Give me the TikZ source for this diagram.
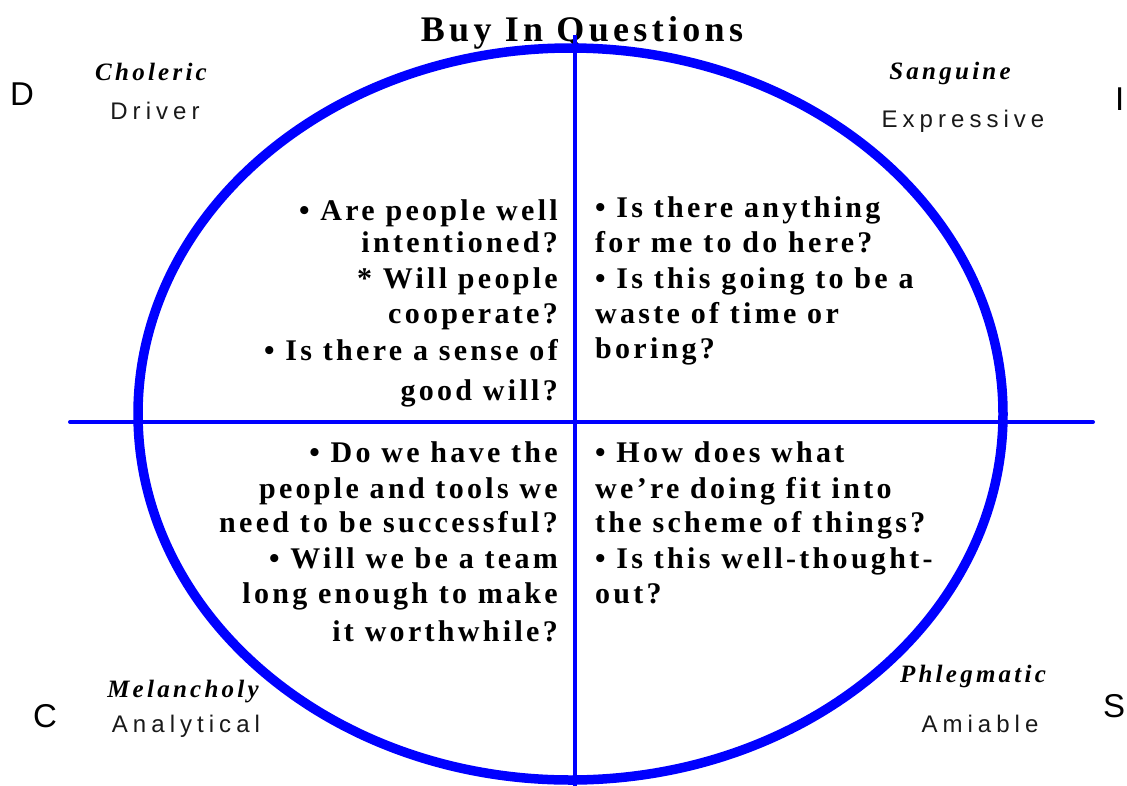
\documentclass[tikz,border=0pt]{standalone}
\usepackage{fontspec}
\setmainfont{Liberation Serif}
\newfontfamily\qfont[LetterSpace=11]{Liberation Serif}
\newfontfamily\tfont[LetterSpace=12]{Liberation Serif}
\newfontfamily\ifont[LetterSpace=13]{Liberation Serif}
\newfontfamily\lsfont[LetterSpace=21]{Liberation Sans}
\newfontfamily\bigfont{Liberation Sans}
\definecolor{pureblue}{RGB}{0,0,255}
\tikzset{
  qtext/.style={inner sep=0pt, font={\qfont\bfseries\fontsize{30}{34}\selectfont}},
  qleft/.style={qtext, anchor=base east},
  qright/.style={qtext, anchor=base west},
  temper/.style={inner sep=0pt, anchor=base, font={\ifont\bfseries\itshape\fontsize{25}{29}\selectfont}},
  role/.style={inner sep=0pt, anchor=base, text=black!90, font={\lsfont\fontsize{24}{28}\selectfont}},
  letter/.style={inner sep=0pt, anchor=base west, font={\bigfont\fontsize{33}{37}\selectfont}},
  ring/.style={draw=pureblue, line width=9.5pt},
  axis/.style={draw=pureblue, line width=4pt, line cap=round}
}
\begin{document}
\begin{tikzpicture}[x=1pt,y=-1pt]
\useasboundingbox (0,0) rectangle (1127,785);
\fill[white] (0,0) rectangle (1127,785);
% title
\node[inner sep=0pt, anchor=base, font={\tfont\bfseries\fontsize{36}{40}\selectfont}] (title) at (582,41) {Buy In Questions};
% ellipse and axes
\draw[ring] (570.5,414) ellipse [x radius=432.5, y radius=366];
\coordinate (vtop) at (575,35);
\coordinate (vbot) at (575,790);
\coordinate (hl) at (70,422);
\coordinate (hr) at (1093,422);
\draw[axis, line cap=butt] (vtop) -- (vbot);
\draw[axis] (hl) -- (hr);
% corner letters
\node[letter] (D) at (10,105) {D};
\node[letter] (I) at (1115,110) {I};
\node[letter] (C) at (33,727) {C};
\node[letter] (S) at (1103,717) {S};
% temperaments
\node[temper] (chol) at (151,80) {Choleric};
\node[role] (driv) at (155,119) {Driver};
\node[temper] (sang) at (950,79) {Sanguine};
\node[role] (expr) at (963,127) {Expressive};
\node[temper] (mel) at (183,697) {Melancholy};
\node[role] (anal) at (186,732) {Analytical};
\node[temper] (phl) at (973,682) {Phlegmatic};
\node[role] (ami) at (980,732) {Amiable};
% upper left
\foreach \yy/\tt [count=\i] in {220/{• Are people well},252/{intentioned?},288/{* Will people},323/{cooperate?},360/{• Is there a sense of},400/{good will?}}
  \node[qleft] (ul\i) at (558,\yy) {\tt};
% upper right
\foreach \yy/\tt [count=\i] in {217/{• Is there anything},252/{for me to do here?},288/{• Is this going to be a},323/{waste of time or},358/{boring?}}
  \node[qright] (ur\i) at (595,\yy) {\tt};
% lower left
\foreach \yy/\tt [count=\i] in {462/{• Do we have the},498/{people and tools we},532/{need to be successful?},568/{• Will we be a team},603/{long enough to make},641/{it worthwhile?}}
  \node[qleft] (ll\i) at (558,\yy) {\tt};
% lower right
\foreach \yy/\tt [count=\i] in {462/{• How does what},498/{we’re doing fit into},532/{the scheme of things?},568/{• Is this well-thought-},603/{out?}}
  \node[qright] (lr\i) at (595,\yy) {\tt};
\end{tikzpicture}
\end{document}
